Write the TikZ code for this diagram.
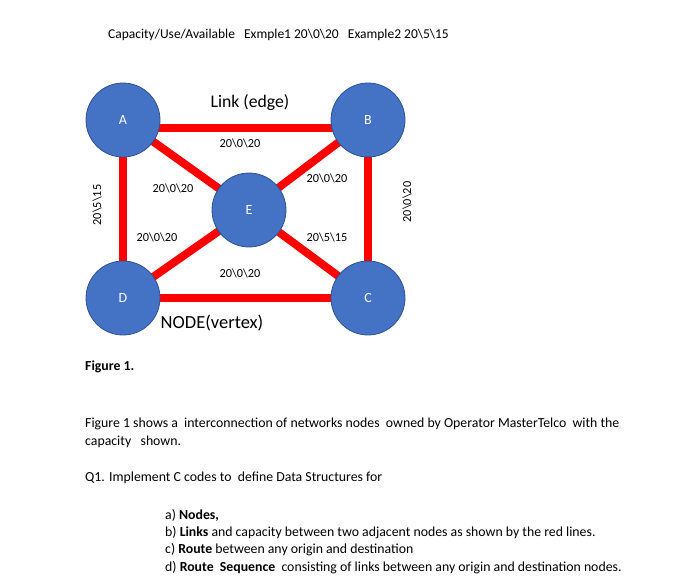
\documentclass[tikz,border=0pt]{standalone}
\usepackage{fontspec}
\setmainfont{Carlito}
\usetikzlibrary{backgrounds}
\newcommand{\bsl}{\textbackslash}
\definecolor{nodeblue}{HTML}{4472C4}
\definecolor{nodeedge}{HTML}{2F528F}
\definecolor{linkred}{HTML}{FF0000}
\begin{document}
\begin{tikzpicture}[x=1pt,y=-1pt,
  vertex/.style={circle,fill=nodeblue,draw=nodeedge,line width=0.8pt,minimum size=74pt,inner sep=0pt,text=white,font=\fontsize{14}{16}\selectfont},
  link/.style={draw=linkred,line width=8pt},
  caplab/.style={font=\fontsize{12.3}{14}\selectfont,inner sep=1pt},
  body/.style={font=\fontsize{13.8}{16}\selectfont,anchor=base west,inner sep=0pt}]
\useasboundingbox (0,0) rectangle (700,587);
% nodes
\node[vertex] (A) at (123,120) {A};
\node[vertex] (B) at (368,120) {B};
\node[vertex] (C) at (368,298) {C};
\node[vertex] (D) at (123,298) {D};
\node[vertex] (E) at (249,210) {E};
% links behind nodes
\begin{scope}[on background layer]
\draw[link,transform canvas={yshift=-8pt}] (A.center) -- (B.center);
\draw[link] (A.center) -- (D.center);
\draw[link] (B.center) -- (C.center);
\draw[link] (D.center) -- (C.center);
\draw[link] (A.center) -- (E.center);
\draw[link] (E.center) -- (B.center);
\draw[link] (D.center) -- (E.center);
\draw[link] (E.center) -- (C.center);
\end{scope}
% capacity labels
\node[caplab] (lab) at (240,143) {20\bsl0\bsl20};
\node[caplab] (lae) at (173,188) {20\bsl0\bsl20};
\node[caplab] (leb) at (327,178) {20\bsl0\bsl20};
\node[caplab] (lde) at (157,237) {20\bsl0\bsl20};
\node[caplab] (lec) at (327,237) {20\bsl5\bsl15};
\node[caplab] (ldc) at (240,273) {20\bsl0\bsl20};
\node[caplab,rotate=90] (lad) at (97,205) {20\bsl5\bsl15};
\node[caplab,rotate=90] (lbc) at (407,202) {20\bsl0\bsl20};
% annotations
\node[font=\fontsize{17.7}{20}\selectfont] (edge) at (250,103) {Link (edge)};
\node[font=\fontsize{18.5}{21}\selectfont] (vert) at (212,323) {NODE(vertex)};
\node[font=\fontsize{13.5}{16}\selectfont,anchor=west,inner sep=0pt] (title) at (108,35) {Capacity/Use/Available\ \ \ Exmple1 20\bsl0\bsl20\ \ \ Example2 20\bsl5\bsl15};
% text
\node[body,font=\fontsize{13.8}{16}\selectfont\bfseries] (fig) at (85,370) {Figure 1.};
\node[body] (p1) at (85,427) {Figure 1 shows a\ \ interconnection of networks nodes\ \ owned by Operator MasterTelco\ \ with the};
\node[body] (p2) at (85,445) {capacity\ \ \ shown.};
\node[body] (q1) at (85,481) {Q1. Implement C codes to\ \ define Data Structures for};
\node[body] (ia) at (165,519) {a) \textbf{Nodes,}};
\node[body] (ib) at (165,536) {b) \textbf{Links} and capacity between two adjacent nodes as shown by the red lines.};
\node[body] (ic) at (165,553) {c) \textbf{Route} between any origin and destination};
\node[body] (id) at (165,571) {d) \textbf{Route\ \ Sequence}\ \ consisting of links between any origin and destination nodes.};
\end{tikzpicture}
\end{document}
